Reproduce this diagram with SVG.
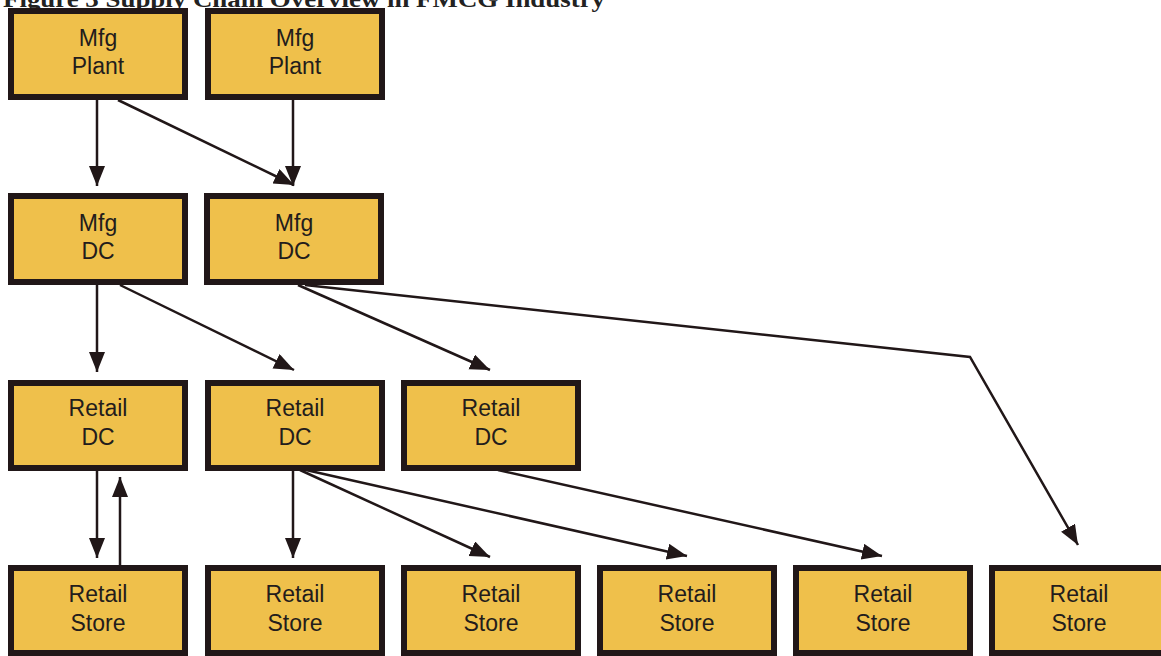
<svg xmlns="http://www.w3.org/2000/svg" width="1161" height="656" viewBox="0 0 1161 656">
  <style>
    .box rect { fill: #efc04b; stroke: #211718; stroke-width: 6; }
    .box text { font-family: "Liberation Sans", Arial, sans-serif; font-size: 23px; fill: #231c1c; text-anchor: middle; }
    .conn line, .conn polyline { stroke: #211718; stroke-width: 2.5; fill: none; marker-end: url(#arr); }
    .title { font-family: "Liberation Serif", "Times New Roman", serif; font-weight: bold; font-size: 24px; fill: #222; }
  </style>
  <defs>
    <marker id="arr" markerUnits="userSpaceOnUse" markerWidth="22" markerHeight="18" refX="20" refY="8" orient="auto">
      <path d="M0,0 L20,8 L0,16 Z" fill="#211718"/>
    </marker>
  </defs>
  <rect width="1161" height="656" fill="#ffffff"/>
  <text class="title" x="3" y="7" textLength="602" lengthAdjust="spacingAndGlyphs">Figure 3 Supply Chain Overview in FMCG Industry</text>

  <g class="conn">
    <line x1="97" y1="100" x2="97" y2="186"/>
    <line x1="118" y1="100" x2="294" y2="185"/>
    <line x1="293" y1="100" x2="293" y2="186"/>
    <line x1="97" y1="285" x2="97" y2="372"/>
    <line x1="120" y1="285" x2="294" y2="370"/>
    <line x1="298" y1="285" x2="490" y2="370"/>
    <polyline points="305,285 970,357 1078,545"/>
    <line x1="97" y1="470" x2="97" y2="558"/>
    <line x1="120" y1="565" x2="120" y2="477"/>
    <line x1="293" y1="470" x2="293" y2="558"/>
    <line x1="300" y1="470" x2="490" y2="557"/>
    <line x1="306" y1="470" x2="687" y2="556"/>
    <line x1="498" y1="470" x2="882" y2="556"/>
  </g>

  <g id="mfg-plant-1" class="box"><rect x="11" y="11" width="174" height="86"/><text x="98" y="46">Mfg</text><text x="98" y="74">Plant</text></g>
  <g id="mfg-plant-2" class="box"><rect x="208" y="11" width="174" height="86"/><text x="295" y="46">Mfg</text><text x="295" y="74">Plant</text></g>

  <g id="mfg-dc-1" class="box"><rect x="11" y="196" width="174" height="86"/><text x="98" y="231">Mfg</text><text x="98" y="259">DC</text></g>
  <g id="mfg-dc-2" class="box"><rect x="207" y="196" width="174" height="86"/><text x="294" y="231">Mfg</text><text x="294" y="259">DC</text></g>

  <g id="retail-dc-1" class="box"><rect x="11" y="383" width="174" height="85"/><text x="98" y="416">Retail</text><text x="98" y="445">DC</text></g>
  <g id="retail-dc-2" class="box"><rect x="208" y="383" width="174" height="85"/><text x="295" y="416">Retail</text><text x="295" y="445">DC</text></g>
  <g id="retail-dc-3" class="box"><rect x="404" y="383" width="174" height="85"/><text x="491" y="416">Retail</text><text x="491" y="445">DC</text></g>

  <g id="retail-store-1" class="box"><rect x="11" y="568" width="174" height="85"/><text x="98" y="602">Retail</text><text x="98" y="631">Store</text></g>
  <g id="retail-store-2" class="box"><rect x="208" y="568" width="174" height="85"/><text x="295" y="602">Retail</text><text x="295" y="631">Store</text></g>
  <g id="retail-store-3" class="box"><rect x="404" y="568" width="174" height="85"/><text x="491" y="602">Retail</text><text x="491" y="631">Store</text></g>
  <g id="retail-store-4" class="box"><rect x="600" y="568" width="174" height="85"/><text x="687" y="602">Retail</text><text x="687" y="631">Store</text></g>
  <g id="retail-store-5" class="box"><rect x="796" y="568" width="174" height="85"/><text x="883" y="602">Retail</text><text x="883" y="631">Store</text></g>
  <g id="retail-store-6" class="box"><rect x="992" y="568" width="174" height="85"/><text x="1079" y="602">Retail</text><text x="1079" y="631">Store</text></g>
</svg>
